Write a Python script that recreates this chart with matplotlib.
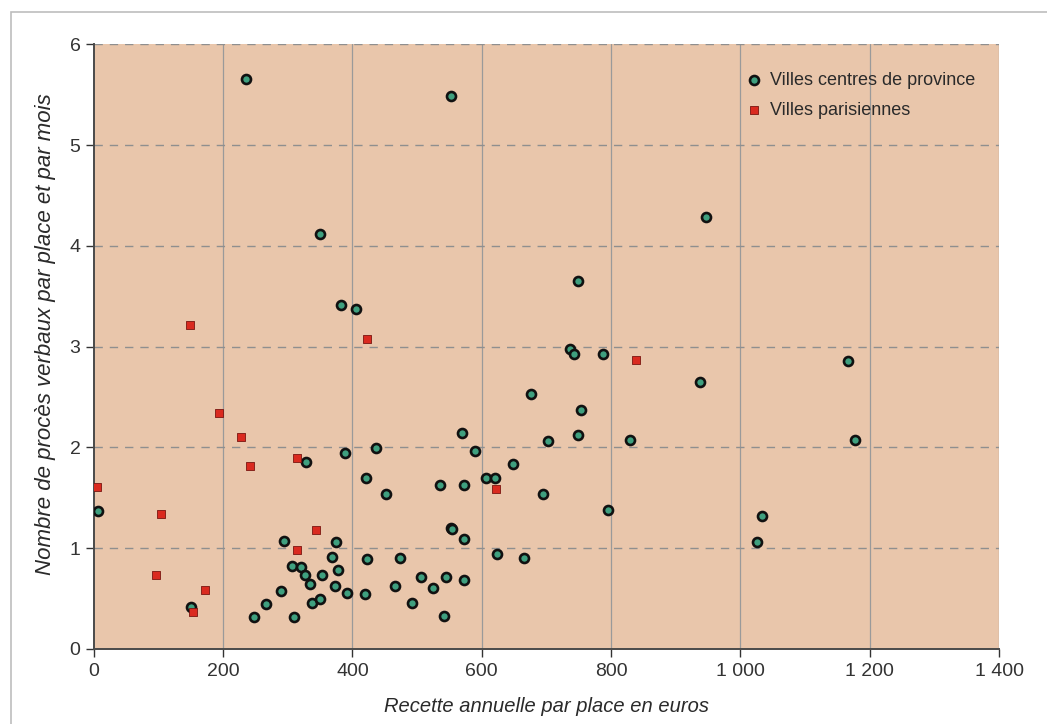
import matplotlib
matplotlib.use("Agg")
import matplotlib.pyplot as plt
import matplotlib.patches as patches
from matplotlib.ticker import FuncFormatter

plt.rcParams['font.family'] = ['Liberation Sans', 'DejaVu Sans']

# Villes centres de province
prov_x = [236, 350, 382, 405, 552, 947, 749, 736, 742, 787, 937, 676, 753, 569, 749,
          830, 703, 437, 589, 648, 607, 620, 536, 572, 452, 695, 795, 1033, 552, 554,
          572, 1026, 623, 666, 474, 506, 545, 572, 466, 525, 492, 541, 6, 328, 388,
          421, 294, 375, 368, 422, 307, 320, 326, 334, 353, 378, 373, 391, 419, 290,
          266, 248, 310, 337, 350, 151, 1167, 1178]
prov_y = [5.66, 4.12, 3.41, 3.37, 5.49, 4.29, 3.65, 2.98, 2.93, 2.93, 2.65, 2.53, 2.37, 2.14, 2.12,
          2.07, 2.06, 1.99, 1.96, 1.84, 1.70, 1.70, 1.63, 1.63, 1.535, 1.535, 1.38, 1.32, 1.20, 1.19,
          1.09, 1.06, 0.94, 0.905, 0.905, 0.71, 0.71, 0.68, 0.63, 0.61, 0.46, 0.33, 1.37, 1.86, 1.94,
          1.70, 1.07, 1.06, 0.91, 0.89, 0.82, 0.81, 0.73, 0.645, 0.73, 0.78, 0.63, 0.56, 0.545, 0.58,
          0.445, 0.32, 0.32, 0.46, 0.50, 0.42, 2.86, 2.07]

# Villes parisiennes
paris_x = [5, 104, 96, 149, 153, 172, 193, 227, 242, 315, 315, 344, 422, 622, 839]
paris_y = [1.61, 1.34, 0.73, 3.21, 0.37, 0.59, 2.34, 2.10, 1.815, 1.90, 0.98, 1.18, 3.08, 1.585, 2.87]

x_ticks = [0, 200, 400, 600, 800, 1000, 1200, 1400]
y_ticks = [0, 1, 2, 3, 4, 5, 6]

fig = plt.figure(figsize=(10.47, 7.24), dpi=100)
ax = fig.add_axes([0.0895, 0.1036, 0.8647, 0.8352])

# cadre gris autour de la figure
fig.patches.append(patches.Rectangle((0.0102, -0.2), 2, 0.9834 + 0.2, transform=fig.transFigure,
                                     fill=False, edgecolor='#bdbdbd', linewidth=1.2, zorder=0))

ax.set_facecolor('#E9C6AB')
ax.set_xlim(0, 1400)
ax.set_ylim(0, 6)
ax.set_xticks(x_ticks)
ax.set_yticks(y_ticks)
ax.xaxis.set_major_formatter(FuncFormatter(lambda v, p: f"{int(v):,}".replace(",", " ")))

for x in x_ticks[1:]:
    ax.axvline(x, color='#9a9a9a', linewidth=0.9, zorder=1)
for y in y_ticks[1:]:
    ax.axhline(y, color='#8f8f8f', linewidth=1.0, linestyle=(0, (6, 5)), zorder=1)

ax.scatter(prov_x, prov_y, s=42, c='#3FA07F', edgecolors='#111111', linewidths=1.9,
           marker='o', zorder=3, label='Villes centres de province')
ax.scatter(paris_x, paris_y, s=40, c='#DA2A1F', edgecolors='#7a1510', linewidths=0.6,
           marker='s', zorder=3, label='Villes parisiennes')

for s in ['top', 'right']:
    ax.spines[s].set_visible(False)
for s in ['left', 'bottom']:
    ax.spines[s].set_color('#4a4a4a')
    ax.spines[s].set_linewidth(1.4)

ax.tick_params(axis='both', colors='#333333', labelsize=14, length=6, width=1.0, direction='out')
ax.tick_params(axis='x', pad=4)

ax.set_xlabel('Recette annuelle par place en euros', fontsize=14.5, style='italic', color='#2a2a2a',
              labelpad=12)
ax.set_ylabel('Nombre de procès verbaux par place et par mois', fontsize=16, style='italic',
              color='#2a2a2a')
ax.yaxis.set_label_coords(-0.042, 0.52)

leg = ax.legend(loc='upper left', bbox_to_anchor=(0.719, 0.955), frameon=False, fontsize=13,
                handletextpad=0.4, labelspacing=0.75, borderaxespad=0, borderpad=0,
                handlelength=1.0)
for t in leg.get_texts():
    t.set_color('#2a2a2a')

fig.savefig('out.png', dpi=100)
